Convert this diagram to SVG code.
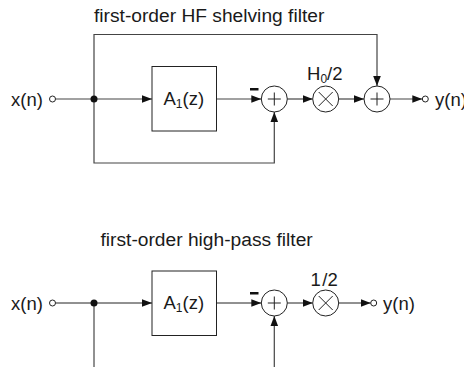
<svg xmlns="http://www.w3.org/2000/svg" width="464" height="367" viewBox="0 0 464 367">
<style>
text{font-family:"Liberation Sans",Arial,sans-serif;font-size:18.5px;fill:#1a1a1a}
.t{font-size:19.2px}
.s{font-size:12px}
.w{fill:none;stroke:#222;stroke-width:1}
.e{fill:#fff;stroke:#222;stroke-width:1}
.c{fill:none;stroke:#222;stroke-width:1}
.g{fill:none;stroke:#444;stroke-width:1.2}
</style>
<defs>
<marker id="a" markerUnits="userSpaceOnUse" markerWidth="11" markerHeight="10" refX="10" refY="5" orient="auto"><path d="M0 1.2L10 5L0 8.8Z" fill="#111"/></marker>
</defs>
<text class="t" x="94" y="22">first-order HF shelving filter</text>
<text class="t" x="100.5" y="246">first-order high-pass filter</text>
<g id="connectors">
<path class="g" d="M55.5 99H152" marker-end="url(#a)"/>
<path class="g" d="M94 99V34.5H377V86" marker-end="url(#a)"/>
<path class="g" d="M94 99V163H274.3V112" marker-end="url(#a)"/>
<path class="g" d="M216.5 99H261.3" marker-end="url(#a)"/>
<path class="g" d="M287.3 99H312.7" marker-end="url(#a)"/>
<path class="g" d="M338.7 99H364" marker-end="url(#a)"/>
<path class="g" d="M390 99H422.3" marker-end="url(#a)"/>
<path class="w" d="M55.5 303H152" marker-end="url(#a)"/>
<path class="w" d="M94 303V367"/>
<path class="g" d="M274.3 367V316" marker-end="url(#a)"/>
<path class="w" d="M216.5 303H261.3" marker-end="url(#a)"/>
<path class="w" d="M287.3 303H312.7" marker-end="url(#a)"/>
<path class="w" d="M338.7 303H370.7" marker-end="url(#a)"/>
</g>
<g id="top-input"><circle class="e" cx="52.5" cy="99" r="3"/><text x="11" y="106">x(n)</text></g>
<g id="top-junction"><circle cx="94" cy="99" r="3.5" fill="#111"/></g>
<g id="top-allpass"><rect class="e" x="152" y="66.5" width="64.5" height="64.5"/><text x="163.5" y="105">A<tspan class="s" dy="3">1</tspan><tspan dy="-3">(z)</tspan></text></g>
<g id="top-sum1"><circle class="e" cx="274.3" cy="99" r="13"/><path class="c" d="M267.8 99H280.8M274.3 92.5V105.5"/><rect x="250" y="88" width="8.5" height="2.5" fill="#111"/></g>
<g id="top-mult"><circle class="e" cx="325.7" cy="99" r="13"/><path class="c" d="M318.7 92L332.7 106M332.7 92L318.7 106"/><text x="307" y="80">H<tspan class="s" dy="3">0</tspan><tspan dy="-3">/2</tspan></text></g>
<g id="top-sum2"><circle class="e" cx="377" cy="99" r="13"/><path class="c" d="M370.5 99H383.5M377 92.5V105.5"/></g>
<g id="top-output"><circle class="e" cx="425.3" cy="99" r="3"/><text x="435" y="106">y(n)</text></g>
<g id="bottom-input"><circle class="e" cx="52.5" cy="303" r="3"/><text x="11" y="310">x(n)</text></g>
<g id="bottom-junction"><circle cx="94" cy="303" r="3.5" fill="#111"/></g>
<g id="bottom-allpass"><rect class="e" x="152" y="271" width="64.5" height="64.5"/><text x="163.5" y="309">A<tspan class="s" dy="3">1</tspan><tspan dy="-3">(z)</tspan></text></g>
<g id="bottom-sum"><circle class="e" cx="274.3" cy="303" r="13"/><path class="c" d="M267.8 303H280.8M274.3 296.5V309.5"/><rect x="250" y="292" width="8.5" height="2.5" fill="#111"/></g>
<g id="bottom-mult"><circle class="e" cx="325.7" cy="303" r="13"/><path class="c" d="M318.7 296L332.7 310M332.7 296L318.7 310"/><text x="310.5" y="286">1<tspan dx="1.5">/2</tspan></text></g>
<g id="bottom-output"><circle class="e" cx="373.7" cy="303" r="3"/><text x="383" y="310">y(n)</text></g>
</svg>
